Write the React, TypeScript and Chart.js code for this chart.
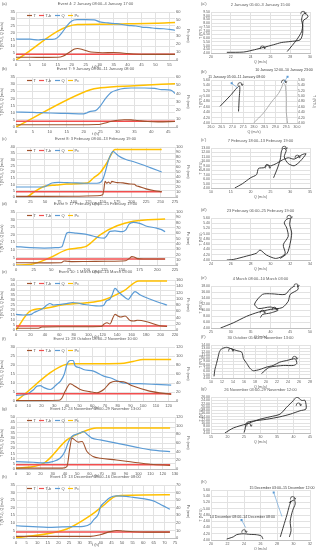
import React, { useEffect, useRef } from "react";
import { Chart, registerables } from "chart.js";
Chart.register(...registerables);

const FONT = "'Liberation Sans', Arial, sans-serif";
const TXT = "#595959";
const GRID = "#E2E2E2";
const COL_T = "#A0522D";
const COL_TK = "#F24E4E";
const COL_Q = "#5B9BD5";
const COL_PC = "#FFC000";

// ---------- Event (a) ----------
const A_qt = [0,5,8,10,13,15,16.5,18.4,20,22,25,28,30,33,36,40,43,45,48,50,53,55,57];
const A_q = [15.3,15.2,14.6,15,15,16.5,20,25.3,28.5,29.4,29.5,29.3,27.8,27,26.5,25.3,24.8,24,23.6,23,22.8,22.3,21.7];
const A_tt = [0,5,10,15,17,19,21,22,24,26,28,31,35,38,42,46,57];
const A_tv = [2,2,1.9,2,3,5.5,8,8.4,7.5,6.2,5.6,5.3,5.5,5.1,4.4,4.1,4.1];
const A_pt = [0,22,30,40,50,57];
const A_pc = [0,44.3,44.8,45.2,45.8,46.8];
const A_thr = 4.2;

// ---------- Event (b) ----------
const B_qt = [0,5,10,15,20,21,22,23.5,25,26.5,28,30,32,34,38,41,43,45,46,47];
const B_q = [10.5,10.3,9.8,9.5,9.2,10,11,11.5,15,20,24,26,27,27.3,27.3,27,26.2,26,25.5,23.5];
const B_tt = [0,10,20,24,26,28,30,32,34,36,39,42,47];
const B_tv = [1.6,1.6,1.6,1.7,2.6,3.8,4.7,5.1,5,4.5,3.8,3.6,3.9];
const B_pt = [0,22,25,35,47];
const B_pc = [0,44.8,47,49.5,52];
const B_thr = 4.0;

// ---------- Event (c) ----------
const C_qt = [0,25,48,55,62,74,88,105,123,140,147,151,155,159,163,168,171,177,190,205,215,232,252];
const C_q = [8,8,8,9.5,11.2,11.7,11.5,11.3,11,11,12,15,21,28,33,36.5,35.5,33,30,28,26.4,23.5,20];
const C_tt = [0,50,100,140,150,152,154,157,160,163,166,170,175,185,195,205,208,212,225,240,252];
const C_tv = [0.5,0.5,0.6,1,1.8,6,12.5,11,12,10.8,12.5,12,11.5,11.3,10.5,10.2,9,8.5,6.5,5,4.3];
const C_pt = [0,18,30,48,70,88,123,134,145,157,166,171,252];
const C_pc = [0,0,9,21,24,26,28,38,48,68,88,95,95];
const C_thr = 4.2;

// ---------- Event (d) ----------
const D_qt = [0,20,40,60,65,68,72,75,85,95,110,118,125,128,133,140,150,155,160,166,175,185,199,205,211];
const D_q = [12.2,11.5,11.2,11.5,12,16,21.1,21.5,21,20.5,19,18,17.8,19,22.2,22.5,22,23,27,28.2,27.5,25.6,24.4,23.5,22];
const D_tt = [0,40,64,68,72,80,100,130,155,160,164,167,172,180,211];
const D_tv = [1.5,1.4,1.5,2.6,2.5,2.2,2.3,2.5,2.8,4.2,5.5,5.3,4.2,4,4];
const D_pt = [0,20,48,72,91,100,119,143,166,211];
const D_pc = [0,1,13.7,29,32.5,35.6,57,74,82.5,87];
const D_thr = 4.0;

// ---------- Event (e) ----------
const E_qt = [0,10,20,25,30,38,43,47,52,60,70,78,85,95,105,115,121,125,130,133,137,142,150,155.6,160,164.7,172,185,200,209];
const E_q = [15.7,15,15.3,17.5,19,22,25,26.5,25,25.5,26.3,27.5,27,25.5,24.5,24,24.5,29,31,35,41.7,38,33,30.7,35,38.3,35,31,27,25];
const E_tt = [0,30,36,60,90,118,122,126,130,134,137,141,145,151,158,163,168,181,199,209];
const E_tv = [1.7,1.7,3,3.3,3.3,3.5,6,7.3,6,12,15.7,14,13,14,9.5,9,9.7,8.3,4.3,3.5];
const E_pt = [0,20,38,70,98,121,149,170,209];
const E_pc = [0,61,69,82,87,96,125,157,157];
const E_thr = 4.0;

// ---------- Event (f) ----------
const F_qt = [0,8,14,16.5,19,22,27,32,35,38,40,42.6,45,46.5,50,53,61,69,74,84,97,110,122];
const F_q = [3.1,3.7,6.4,8.3,8.5,7.4,6.4,9.2,11,15,20.3,22.5,22.5,19.5,18.5,17.5,16.6,13.8,12.9,10.1,9.6,9.2,8.8];
const F_tt = [0,20,34,36,38.7,42.6,45,50.5,58,63.5,69,74,78,84.5,92,105,122];
const F_tv = [0.3,0.3,0.4,1.5,5.5,9.6,8.8,6.4,5.2,4.6,6.4,10.1,11,10.7,8.3,5.5,3.7];
const F_pt = [0,40,44,60,82,92,100,122];
const F_pc = [0,82,83,83,83.5,88,92,92];
const F_thr = 4.0;

// ---------- Event (g) ----------
const G_qt = [0,14,22,30,36,40,43,45.7,49.8,53,55,58,62,68.8,82,96,110,126];
const G_q = [7.1,6.5,5.8,7.1,10.3,16.8,26.5,31.3,33.5,35,36,33.5,29.7,28,24.8,21.6,18.4,16.8];
const G_tt = [0,38,41.6,44,45.7,48,51,54,58,63,69,82,96,110,126];
const G_tv = [0.8,0.8,2.3,20,29.7,28,25.8,26.5,16.8,12,10.3,8.7,6.5,4.5,3.5];
const G_pt = [0,22.6,41.6,52.5,66,126];
const G_pc = [1.5,13,67,83,94.5,94.5];
const G_thr = 4.0;

// ---------- Event (h) ----------
const H_qt = [0,8,15,22,28,32,35,36.6,38.9,39.7,42,44.4,47.5,52,55.4,60,64.8,68,71,72.6];
const H_q = [8.1,7.5,7,7.3,7.5,7.7,9.2,12,16,20.1,23.9,26.8,27.8,27.5,26.8,26,24.5,22.3,20.1,19];
const H_tt = [0,20,35,39.7,44.4,47.5,50.7,55.4,61.7,72.6];
const H_tv = [1.1,1.1,1.1,2.2,4.2,5,4.6,4.1,3.9,3.9];
const H_pt = [0,24,35,41,47.5,72.6];
const H_pc = [0,11.8,29.4,42.4,55.6,57];
const H_thr = 4.0;

// ---------- Hysteresis loops (Q on x, T on y) ----------
const HA_q = [27.7,28.65,29.15,29.26,29.15,29.26,29.5,29.8,29.3,29.26,29.0,28.0,27.1,26.3,25.3,24.4,23.3,21.6];
const HA_t = [4.2,5.76,6.86,7.74,8.4,9.07,9.37,8.85,8.3,6.64,5.76,5.54,5.4,5.1,4.75,4.44,4.13,4.09];
const HA_ax = [29.3, 25.2];
const HA_ay = [9.3, 4.65];

const HB1_q = [26.42,26.9,27.32,27.31,27.28];
const HB1_t = [4.62,5.02,5.38,4.9,4.43];
const HB2_q = [27.98,28.44,28.83,29.14,29.3,29.35,29.45,29.5,29.5,29.56];
const HB2_t = [4.0,4.37,4.8,5.1,5.35,5.48,5.42,4.92,4.43,4.0];
const HB_ax = [27.35, 29.38];
const HB_ay = [5.42, 5.52];

const HC_q = [16,18,20,21.5,22,23.5,24,25,26.5,28,29.5,31,33,34,32.5,31,29.5,28.5,29,28.3,27.8,27.5,26.8,25.8];
const HC_t = [4.0,5,6.3,7,8.4,8.6,9.3,9.0,9.5,10.3,10.8,10.5,11.5,11.7,10,9,9.5,11,12.5,13,12.3,10.5,8.5,6.3];
const HC_ax = [28.5, 31.8, 24.3];
const HC_ay = [12.9, 10.9, 8.6];

const HD_q = [25.6,26.25,27.6,28.6,28.95,29.6,30.5,31.15,31.5,31.3,31.8,31.65,31.4,31.6,32,31.95,32.15,32,31.7,31];
const HD_t = [4.0,4.02,4.15,4.26,4.38,4.19,4.06,4.13,4.26,4.58,4.9,5.22,5.41,5.54,5.6,5.35,5.03,4.64,4.26,4.06];
const HD_ax = [31.9];
const HD_ay = [5.62];

const HE_q = [27.4,30.6,34,37,40,43,44.5,45,47,46.6,45,43.7,40.3,38,36,37,40,42,40,38,37.5];
const HE_t = [4,5.7,7.9,9.3,10.2,10.8,12.9,15.2,16.9,18.3,17,15.2,15.4,15.2,12,10.5,11,10,9,8.5,7.5];
const HE_ax = [46.5, 38, 41];
const HE_ay = [18, 9.2, 10.2];

const HF_q = [10.55,10.7,11,11.3,11.5,11.9,12.85,13.75,14.7,15.6,15.9,16.5,17.1,17.7,18.9,20.1,21.3,22.5,23.75,25.3,25.6,25,23.2,20.7,19.8,19.2];
const HF_t = [4.5,6.5,8.4,10.4,11.8,12.8,13.3,12.8,12.3,11.8,9.9,8.4,6.9,6.2,6.6,7.3,7.8,8.8,9.3,9.8,8.4,7.8,7.8,7.3,6.3,5.3];
const HF_ax = [13.6, 25.2];
const HF_ay = [12.3, 9.9];

const HG_q = [19.2,21.8,25.8,29.8,32.9,35.9,37.9,40,41,42.5,43.5,43.8,42,39,35.9,31.9,27.8,25.8,25.3,25];
const HG_t = [4,7.1,9.6,12.4,13.9,15.5,19.7,23.9,26,23.9,23.9,18.7,17.6,15.5,13.9,12.4,11.3,10.3,6.1,4.3];
const HG_ax = [41.5, 26.5];
const HG_ay = [21, 8.5];

const HH1_q = [21.9,22.7,23.1,23.9,24.7,25.5,26.1,26.3];
const HH1_t = [4.03,4.1,4.17,4.2,4.18,4.17,4.13,4.03];
const HH2_q = [28.4,28.8,29.2,29.5,29.7,29.5,30.1,30.2,29.9,29.6,29.7,29.5];
const HH2_t = [4.1,4.45,4.8,5.1,5.25,5.2,5.28,5.15,4.95,4.6,4.3,4.1];
const HH_ax = [24, 29.9];
const HH_ay = [4.26, 5.32];

// ---------- layout (positions only) ----------
const LEFT_ROWS = [[12,60],[77,127],[147,197],[212,265],[280,330],[347,401],[417,469],[485,538]];
const RIGHT_ROWS = [[12,53],[80,123],[148,188],[218,260],[286,328],[345,378],[397,433],[490,540]];

const pts = (xs: number[], ys: number[]) => xs.map((x, i) => ({ x, y: ys[i] }));

const EVENTS = [
  { id: "(a)", title: "Event 4: 2 January 08:00–4 January 17:00", xMax: 57, xStep: 5, yMax: 35, y2Max: 60, y2Step: 10, qt: A_qt, q: A_q, tt: A_tt, tv: A_tv, pt: A_pt, pc: A_pc, thr: A_thr },
  { id: "(b)", title: "Event 7: 9 January 08:00–11 January 08:00", xMax: 47, xStep: 5, yMax: 35, y2Max: 60, y2Step: 10, qt: B_qt, q: B_q, tt: B_tt, tv: B_tv, pt: B_pt, pc: B_pc, thr: B_thr },
  { id: "(c)", title: "Event 8: 3 February 08:00–13 February 19:00", xMax: 275, xStep: 25, yMax: 40, y2Max: 100, y2Step: 10, qt: C_qt, q: C_q, tt: C_tt, tv: C_tv, pt: C_pt, pc: C_pc, thr: C_thr },
  { id: "(d)", title: "Event 9: 17 February 08:00–25 February 19:00", xMax: 225, xStep: 25, yMax: 35, y2Max: 100, y2Step: 10, qt: D_qt, q: D_q, tt: D_tt, tv: D_tv, pt: D_pt, pc: D_pc, thr: D_thr },
  { id: "(e)", title: "Event 10: 1 March 08:00–10 March 03:00", xMax: 220, xStep: 20, yMax: 50, y2Max: 160, y2Step: 20, qt: E_qt, q: E_q, tt: E_tt, tv: E_tv, pt: E_pt, pc: E_pc, thr: E_thr },
  { id: "(f)", title: "Event 11: 28 October 08:00–2 November 10:00", xMax: 125, xStep: 10, yMax: 30, y2Max: 120, y2Step: 20, qt: F_qt, q: F_q, tt: F_tt, tv: F_tv, pt: F_pt, pc: F_pc, thr: F_thr },
  { id: "(g)", title: "Event 12: 24 November 08:00–29 November 13:00", xMax: 130, xStep: 10, yMax: 50, y2Max: 120, y2Step: 20, qt: G_qt, q: G_q, tt: G_tt, tv: G_tv, pt: G_pt, pc: G_pc, thr: G_thr },
  { id: "(h)", title: "Event 13: 13 December 08:00–16 December 08:00", xMax: 75, xStep: 5, yMax: 35, y2Max: 70, y2Step: 10, qt: H_qt, q: H_q, tt: H_tt, tv: H_tv, pt: H_pt, pc: H_pc, thr: H_thr },
];

const LOOPS = [
  { id: "(a')", title: "2 January 05:00–3 January 15:00", xMin: 20, xMax: 30, xStep: 2, yMin: 4, yMax: 9.5, yStep: 0.5, lines: [{ x: HA_q, y: HA_t, c: "#262626" }], ax: HA_ax, ay: HA_ay, notes: [] as any[], dual: false },
  { id: "(b')", title: "", xMin: 26, xMax: 30, xStep: 0.5, yMin: 4, yMax: 5.6, yStep: 0.2, lines: [{ x: HB1_q, y: HB1_t, c: "#262626" }, { x: HB2_q, y: HB2_t, c: "#A6A6A6" }], ax: HB_ax, ay: HB_ay,
    notes: [{ text: "11 January 05:00–11 January 08:00", tx: 27.2, ty: 5.7, mx: 26.96, my: 5.48, lx: 27.25, ly: 5.3 }, { text: "10 January 12:00–10 January 23:00", tx: 29.4, ty: 5.98, mx: 29.56, my: 5.72, lx: 29.38, ly: 5.5 }], dual: true },
  { id: "(c')", title: "7 February 18:00–13 February 19:00", xMin: 10, xMax: 35, xStep: 5, yMin: 4, yMax: 13, yStep: 1, lines: [{ x: HC_q, y: HC_t, c: "#262626" }], ax: HC_ax, ay: HC_ay, notes: [], dual: false },
  { id: "(d')", title: "23 February 06:00–25 February 19:00", xMin: 24, xMax: 34, xStep: 2, yMin: 4, yMax: 5.6, yStep: 0.2, lines: [{ x: HD_q, y: HD_t, c: "#262626" }], ax: HD_ax, ay: HD_ay, notes: [], dual: false },
  { id: "(e')", title: "4 March 08:00–10 March 03:00", xMin: 25, xMax: 50, xStep: 5, yMin: 4, yMax: 18, yStep: 2, lines: [{ x: HE_q, y: HE_t, c: "#262626" }], ax: HE_ax, ay: HE_ay, notes: [], dual: false },
  { id: "(f')", title: "30 October 05:00–2 November 13:00", xMin: 10, xMax: 28, xStep: 2, yMin: 4, yMax: 14, yStep: 1, lines: [{ x: HF_q, y: HF_t, c: "#262626" }], ax: HF_ax, ay: HF_ay, notes: [], dual: false },
  { id: "(g')", title: "26 November 03:00–29 November 12:00", xMin: 15, xMax: 45, xStep: 5, yMin: 4, yMax: 26, yStep: 2, lines: [{ x: HG_q, y: HG_t, c: "#262626" }], ax: HG_ax, ay: HG_ay, notes: [], dual: false },
  { id: "(h')", title: "", xMin: 20, xMax: 32, xStep: 2, yMin: 4, yMax: 5.6, yStep: 0.2, lines: [{ x: HH1_q, y: HH1_t, c: "#262626" }, { x: HH2_q, y: HH2_t, c: "#262626" }], ax: HH_ax, ay: HH_ay,
    notes: [{ text: "15 December 03:00–15 December 12:00", tx: 28.6, ty: 5.67, mx: 27.6, my: 5.52, lx: 28.6, ly: 4.75 }, { text: "14 December 08:00–14 December 08:00", tx: 23.8, ty: 4.74, mx: 23.7, my: 4.64, lx: 24.2, ly: 4.4 }], dual: false },
];

const tickFont = (s: number) => ({ size: s, family: FONT });

function drawArrow(ctx: CanvasRenderingContext2D, x: number, y: number) {
  ctx.save();
  ctx.strokeStyle = "#262626";
  ctx.lineWidth = 0.7;
  ctx.beginPath();
  ctx.arc(x, y, 2.2, Math.PI * 1.0, Math.PI * 2.0);
  ctx.stroke();
  ctx.beginPath();
  ctx.moveTo(x + 1.1, y - 0.9);
  ctx.lineTo(x + 2.2, y + 0.8);
  ctx.lineTo(x + 3.2, y - 0.9);
  ctx.stroke();
  ctx.beginPath();
  ctx.moveTo(x - 2.2, y);
  ctx.lineTo(x - 2.2, y + 0.8);
  ctx.stroke();
  ctx.restore();
}

function leftConfig(ev: any) {
  const xEnd = ev.qt[ev.qt.length - 1];
  return {
    type: "line",
    data: {
      datasets: [
        { label: "T", data: pts(ev.tt, ev.tv), borderColor: COL_T, borderWidth: 1.1, yAxisID: "y" },
        { label: "T-b", data: [{ x: 0, y: ev.thr }, { x: xEnd, y: ev.thr }], borderColor: COL_TK, borderWidth: 1.5, yAxisID: "y" },
        { label: "Q", data: pts(ev.qt, ev.q), borderColor: COL_Q, borderWidth: 1.2, yAxisID: "y" },
        { label: "Pc", data: pts(ev.pt, ev.pc), borderColor: COL_PC, borderWidth: 1.5, yAxisID: "y1" },
      ],
    },
    options: {
      responsive: false,
      animation: false,
      devicePixelRatio: 1,
      layout: { padding: { top: 12, left: 0, right: 0, bottom: 0 } },
      elements: { point: { radius: 0 }, line: { cubicInterpolationMode: "monotone" } },
      plugins: { legend: { display: false }, title: { display: false }, tooltip: { enabled: false } },
      scales: {
        x: {
          type: "linear", min: 0, max: ev.xMax,
          ticks: { stepSize: ev.xStep, font: tickFont(4), color: TXT, padding: 2, maxRotation: 0, autoSkip: false, includeBounds: false },
          grid: { color: GRID, drawTicks: false },
          border: { color: "#BFBFBF" },
          title: { display: true, text: "t (h)", font: tickFont(4), color: TXT, padding: 0 },
          afterFit: (s: any) => { s.height = 9; },
        },
        y: {
          position: "left", min: 0, max: ev.yMax,
          ticks: { stepSize: 5, font: tickFont(4), color: TXT, padding: 1, autoSkip: false },
          grid: { color: GRID, drawTicks: false },
          border: { display: false },
          title: { display: true, text: "T (NTU), Q (m³/s)", font: tickFont(3.6), color: TXT, padding: 0 },
          afterFit: (s: any) => { s.width = 16; },
        },
        y1: {
          position: "right", min: 0, max: ev.y2Max,
          ticks: { stepSize: ev.y2Step, font: tickFont(4), color: TXT, padding: 1, autoSkip: false },
          grid: { display: false, drawTicks: false },
          border: { display: false },
          title: { display: true, text: "Pc (mm)", font: tickFont(3.6), color: TXT, padding: 0 },
          afterFit: (s: any) => { s.width = 15; },
        },
      },
    },
    plugins: [{
      id: "decor",
      afterDraw(chart: any) {
        const ctx = chart.ctx as CanvasRenderingContext2D;
        const a = chart.chartArea;
        ctx.save();
        ctx.fillStyle = TXT;
        ctx.textBaseline = "middle";
        ctx.font = `4px ${FONT}`;
        ctx.textAlign = "left";
        ctx.fillText(ev.id, 2, 4);
        ctx.textAlign = "center";
        ctx.fillText(ev.title, (a.left + a.right) / 2, 4);
        const ly = a.top + 3.5;
        const items: [number, string, string][] = [[27, COL_T, "T"], [39, COL_TK, "T-b"], [55, COL_Q, "Q"], [68, COL_PC, "Pc"]];
        ctx.textAlign = "left";
        for (const [x, c, t] of items) {
          ctx.strokeStyle = c; ctx.lineWidth = 1.2;
          ctx.beginPath(); ctx.moveTo(x, ly); ctx.lineTo(x + 5, ly); ctx.stroke();
          ctx.fillStyle = TXT; ctx.fillText(t, x + 6.5, ly);
        }
        ctx.restore();
      },
    }],
  };
}

function rightConfig(h: any) {
  const yTicks = { stepSize: h.yStep, font: tickFont(3.5), color: TXT, padding: 1, autoSkip: false, callback: (v: any) => Number(v).toFixed(2) };
  const scales: any = {
    x: {
      type: "linear", min: h.xMin, max: h.xMax,
      ticks: { stepSize: h.xStep, font: tickFont(3.5), color: TXT, padding: 2, maxRotation: 0, autoSkip: false },
      grid: { color: GRID, drawTicks: false },
      border: { color: "#BFBFBF" },
      title: { display: true, text: "Q (m³/s)", font: tickFont(3.6), color: TXT, padding: 0 },
      afterFit: (s: any) => { s.height = 11; },
    },
    y: {
      position: "left", min: h.yMin, max: h.yMax,
      ticks: yTicks,
      grid: { color: GRID, drawTicks: false },
      border: { display: false },
      title: { display: true, text: "T (NTU)", font: tickFont(3.6), color: TXT, padding: 0 },
      afterFit: (s: any) => { s.width = 12; },
    },
  };
  if (h.dual) {
    scales.y1 = {
      position: "right", min: h.yMin, max: h.yMax,
      ticks: yTicks,
      grid: { display: false, drawTicks: false },
      border: { display: false },
      title: { display: true, text: "T (NTU)", font: tickFont(3.6), color: TXT, padding: 0 },
      afterFit: (s: any) => { s.width = 19; },
    };
  }
  return {
    type: "scatter",
    data: {
      datasets: h.lines.map((l: any) => ({ data: pts(l.x, l.y), showLine: true, borderColor: l.c, borderWidth: 0.9, pointRadius: 0, tension: 0.25 })),
    },
    options: {
      responsive: false,
      animation: false,
      devicePixelRatio: 1,
      layout: { padding: { top: 12, left: 0, right: h.dual ? 0 : 6, bottom: 0 } },
      plugins: { legend: { display: false }, title: { display: false }, tooltip: { enabled: false } },
      scales,
    },
    plugins: [{
      id: "decor",
      afterDraw(chart: any) {
        const ctx = chart.ctx as CanvasRenderingContext2D;
        const a = chart.chartArea;
        const sx = chart.scales.x, sy = chart.scales.y;
        ctx.save();
        ctx.fillStyle = TXT;
        ctx.textBaseline = "middle";
        ctx.font = `4px ${FONT}`;
        ctx.textAlign = "left";
        ctx.fillText(h.id, 2, 4);
        if (h.title) {
          ctx.textAlign = "center";
          ctx.fillText(h.title, (a.left + a.right) / 2, 5);
        }
        h.ax.forEach((x: number, i: number) => drawArrow(ctx, sx.getPixelForValue(x), sy.getPixelForValue(h.ay[i])));
        for (const n of h.notes) {
          const mx = sx.getPixelForValue(n.mx), my = sy.getPixelForValue(n.my);
          ctx.strokeStyle = COL_Q; ctx.lineWidth = 0.6;
          ctx.beginPath(); ctx.moveTo(mx, my); ctx.lineTo(sx.getPixelForValue(n.lx), sy.getPixelForValue(n.ly)); ctx.stroke();
          ctx.fillStyle = COL_Q; ctx.fillRect(mx - 1, my - 1, 2, 2);
          ctx.fillStyle = "#404040"; ctx.font = `3.6px ${FONT}`; ctx.textAlign = "center";
          ctx.fillText(n.text, sx.getPixelForValue(n.tx), sy.getPixelForValue(n.ty));
        }
        ctx.restore();
      },
    }],
  };
}

function ChartBox({ left, top, width, height, make }: { left: number; top: number; width: number; height: number; make: () => any }) {
  const ref = useRef<HTMLCanvasElement>(null);
  useEffect(() => {
    const c = new Chart(ref.current as HTMLCanvasElement, make());
    return () => c.destroy();
  }, []);
  return (
    <canvas ref={ref} width={width} height={height}
      style={{ position: "absolute", left, top, width, height, display: "block" }} />
  );
}

export default function App() {
  return (
    <div style={{ position: "absolute", left: 0, top: 0, width: 316, height: 550, background: "#fff", overflow: "hidden" }}>
      {EVENTS.map((ev, i) => {
        const [pt, pb] = LEFT_ROWS[i];
        return <ChartBox key={"l" + i} left={0} top={pt - 12} width={190} height={pb - pt + 12 + 9} make={() => leftConfig(ev)} />;
      })}
      {LOOPS.map((h, i) => {
        const [pt, pb] = RIGHT_ROWS[i];
        return <ChartBox key={"r" + i} left={199} top={pt - 12} width={117} height={pb - pt + 12 + 11} make={() => rightConfig(h)} />;
      })}
    </div>
  );
}
